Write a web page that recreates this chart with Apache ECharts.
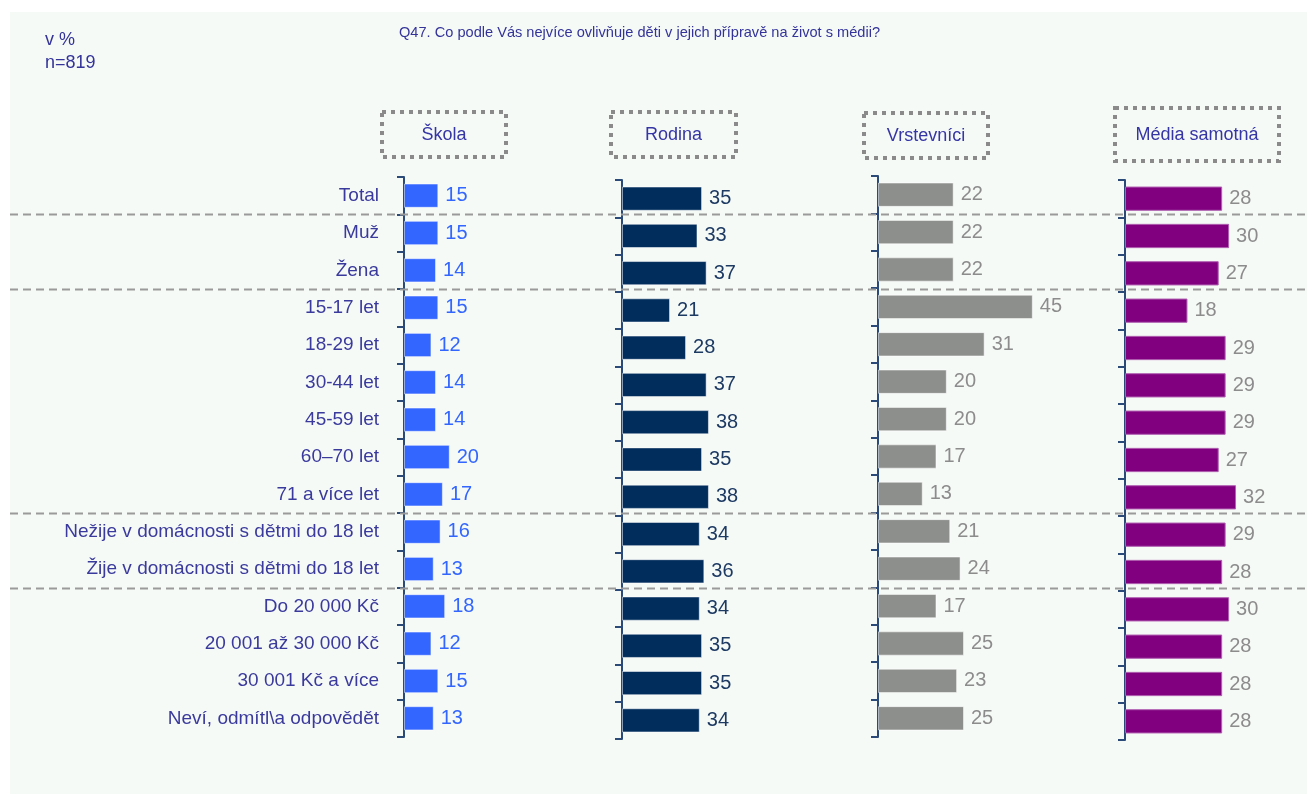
<!DOCTYPE html>
<html><head><meta charset="utf-8">
<script src="https://cdn.jsdelivr.net/npm/echarts@6/dist/echarts.min.js"></script>
<style>html,body{margin:0;padding:0;background:#fff}#c{width:1307px;height:794px}</style>
</head><body><div id="c"></div>
<script>
const categories = ['Total','Muž','Žena','15-17 let','18-29 let','30-44 let','45-59 let','60–70 let','71 a více let','Nežije v domácnosti s dětmi do 18 let','Žije v domácnosti s dětmi do 18 let','Do 20 000 Kč','20 001 až 30 000 Kč','30 001 Kč a více','Neví, odmítl\\a odpovědět'];
const panelNames = ['Škola','Rodina','Vrstevníci','Média samotná'];
const skola = [15,15,14,15,12,14,14,20,17,16,13,18,12,15,13];
const rodina = [35,33,37,21,28,37,38,35,38,34,36,34,35,35,34];
const vrstevnici = [22,22,22,45,31,20,20,17,13,21,24,17,25,23,25];
const media = [28,30,27,18,29,29,29,27,32,29,28,30,28,28,28];
const separatorsAfter = [0,2,8,10];
const titleText = 'Q47. Co podle Vás nejvíce ovlivňuje děti v jejich přípravě na život s médii?';
const noteLines = ['v %','n=819'];

const FONT = 'Liberation Sans';
const seriesData = [skola, rodina, vrstevnici, media];
const barColors = ['#3366ff','#002d5c','#8c8f8c','#800080'];
const barBorders = ['rgba(255,255,255,0.5)','rgba(255,255,255,0.5)','rgba(255,255,255,0.5)','#b060b0'];
const labelColors = ['#3366ff','#1d3a63','#8c8c8c','#8c8c8c'];
const grids = [
  {left:404, top:177, width:183, height:560, max:80},
  {left:622, top:180, width:183, height:559, max:80},
  {left:878, top:176, width:172, height:561, max:50},
  {left:1125, top:180, width:173.5, height:560, max:50}
];
const headerBoxes = [
  {x:382,y:112,w:124,h:45},
  {x:611,y:112,w:125,h:45},
  {x:864,y:113,w:124,h:45},
  {x:1115,y:108,w:164,h:53}
];

const chart = echarts.init(document.getElementById('c'), null, {renderer:'canvas'});
const axisColor = '#2b4a78';
const option = {
  backgroundColor:'#ffffff',
  animation:false,
  textStyle:{fontFamily:FONT},
  title:{text:titleText, left:394, top:20, textStyle:{fontFamily:FONT,fontSize:14.6,fontWeight:'normal',color:'#333399'}},
  grid: grids.map(g=>({left:g.left, top:g.top, width:g.width, height:g.height, containLabel:false})),
  xAxis: grids.map((g,i)=>({type:'value', gridIndex:i, min:0, max:g.max, show:false})),
  yAxis: grids.map((g,i)=>({
    type:'category', gridIndex:i, data:categories, inverse:true,
    axisLine:{show:true, lineStyle:{color:axisColor, width:2}},
    axisTick:{show:true, length:7, lineStyle:{color:axisColor, width:2}},
    axisLabel:{show:i===0, margin:25, fontSize:19, color:'#3a3a9c', fontFamily:FONT},
    splitLine:{show:false}
  })),
  series: seriesData.map((d,i)=>({
    type:'bar', xAxisIndex:i, yAxisIndex:i, data:d, barCategoryGap:'35%',
    itemStyle:{color:barColors[i], borderColor:barBorders[i], borderWidth:1},
    label:{show:true, position:'right', distance:7, fontSize:20, color:labelColors[i], fontFamily:FONT}
  }))
};
chart.setOption(option);

const graphics = [];
graphics.push({type:'rect', z:-10, shape:{x:10,y:12,width:1297,height:782}, style:{fill:'#f6faf7'}, silent:true});
noteLines.forEach((t,k)=>graphics.push({type:'text', x:45, y:40+k*23, style:{text:t, fontFamily:FONT, fontSize:18, fill:'#333399', verticalAlign:'middle'}}));
separatorsAfter.forEach(idx=>{
  const y1 = chart.convertToPixel({yAxisIndex:0}, categories[idx]);
  const y2 = chart.convertToPixel({yAxisIndex:0}, categories[idx+1]);
  const y = Math.round((y1+y2)/2)+0.5;
  graphics.push({type:'line', z:5, shape:{x1:10,y1:y,x2:1307,y2:y}, style:{stroke:'#9a9a9a', lineWidth:2, lineDash:[8,5]}, silent:true});
});
headerBoxes.forEach((b,i)=>{
  graphics.push({type:'rect', shape:{x:b.x,y:b.y,width:b.w,height:b.h}, style:{fill:'none', stroke:'#8a8a8a', lineWidth:4, lineDash:[4,5]}});
  graphics.push({type:'text', x:b.x+b.w/2, y:b.y+b.h/2+1, style:{text:panelNames[i], fontFamily:FONT, fontSize:18, fill:'#3535a5', align:'center', verticalAlign:'middle'}});
});
chart.setOption({graphic:graphics});
</script></body></html>
